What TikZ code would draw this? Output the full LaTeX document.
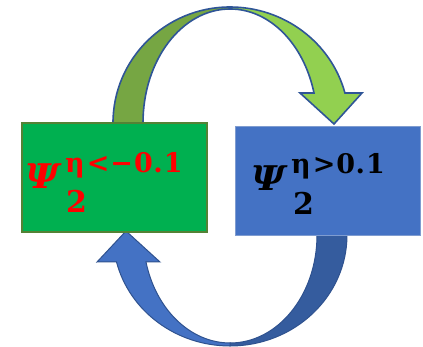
\documentclass[tikz,border=0pt]{standalone}
\usepackage{fontspec}
\newfontfamily\lblfont{DejaVu Serif}
\definecolor{gfill}{HTML}{00B050}
\definecolor{gborder}{HTML}{548235}
\definecolor{bfill}{HTML}{4472C4}
\definecolor{bborder}{HTML}{7F9CD0}
\definecolor{darkgreen}{HTML}{76A643}
\definecolor{lightgreen}{HTML}{92D050}
\definecolor{topline}{HTML}{2F5597}
\definecolor{darkblue}{HTML}{355C9E}
\definecolor{botline}{HTML}{2F528F}
\tikzset{
  boxstyle/.style={rectangle, minimum width=185pt, minimum height=109pt, inner sep=0pt},
  toparrow/.style={draw=topline, line width=1.6pt, line join=miter},
  botarrow/.style={draw=botline, line width=1pt, line join=miter},
  psistyle/.style={anchor=base west, inner sep=0pt, font=\lblfont\bfseries\itshape\fontsize{34}{34}\selectfont, xscale=1.1},
  supstyle/.style={anchor=base west, inner sep=0pt, font=\lblfont\bfseries\fontsize{27}{27}\selectfont},
  substyle/.style={anchor=base west, inner sep=0pt, font=\lblfont\bfseries\fontsize{30}{30}\selectfont}
}
\begin{document}
\begin{tikzpicture}[x=1pt,y=1pt]
\useasboundingbox (0,0) rectangle (423,-347);
% top curved arrow (green)
\path[toparrow, fill=darkgreen] (113,-123) arc[start angle=180,end angle=90,x radius=117,y radius=116]
  -- (230,-9) arc[start angle=90,end angle=180,x radius=87,y radius=114] -- cycle;
\path[toparrow, fill=lightgreen] (230,-7) arc[start angle=90,end angle=15,x radius=119,y radius=116]
  -- (362,-93) -- (334,-124) -- (300,-93) -- (314,-93)
  arc[start angle=15.25,end angle=90,x radius=87,y radius=114] -- cycle;
% bottom curved arrow (blue)
\path[botarrow, fill=darkblue] (230,-346) arc[start angle=270,end angle=360,x radius=117,y radius=111]
  -- (317,-235) arc[start angle=0,end angle=-90,x radius=87,y radius=108] -- cycle;
\path[botarrow, fill=bfill] (230,-346) arc[start angle=270,end angle=194,x radius=117,y radius=111]
  -- (97,-262) -- (126,-231) -- (160,-262) -- (146,-262)
  arc[start angle=194.48,end angle=270,x radius=87,y radius=108] -- cycle;
% boxes
\node[boxstyle, fill=gfill, draw=gborder, line width=1.6pt] (gbox) at (114.5,-177.5) {};
\node[boxstyle, fill=bfill, draw=bborder, line width=0.8pt] (bbox) at (327.5,-180.5) {};
% labels of the green box
\node[psistyle, text=red] (gpsi) at (25,-189) {Ψ};
\node[supstyle, text=red] (gsup) at (65,-173) {η\kern2pt<\kern1pt−\kern1pt0\kern0.5pt.\kern1pt1};
\node[substyle, text=red] (gsub) at (66,-213) {2};
% labels of the blue box
\node[psistyle, text=black] (bpsi) at (251,-191) {Ψ};
\node[supstyle, text=black] (bsup) at (291,-174) {η\kern2pt>\kern1pt0\kern0.5pt.\kern1pt1};
\node[substyle, text=black] (bsub) at (293,-215) {2};
\end{tikzpicture}
\end{document}
